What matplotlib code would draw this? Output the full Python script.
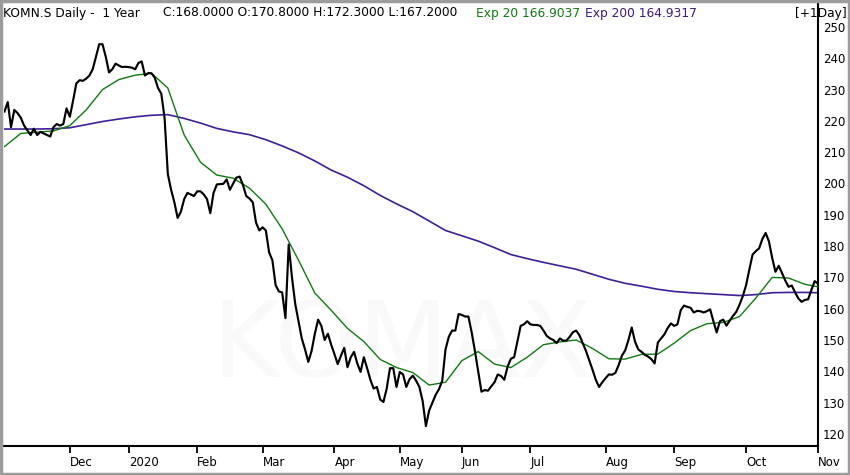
import numpy as np
import pandas as pd
import matplotlib
matplotlib.use("Agg")
import matplotlib.pyplot as plt
from matplotlib.patches import Rectangle

# ---------------- data ----------------
# SIX trading days, 4 Nov 2019 .. 2 Nov 2020
holidays = ['2019-12-24', '2019-12-25', '2019-12-26', '2019-12-31',
            '2020-01-01', '2020-01-02', '2020-04-10', '2020-04-13',
            '2020-05-01', '2020-05-21', '2020-06-01']

close = [
    # Nov 2019
    223, 226, 218, 223.5, 222.5, 221, 218.5, 217, 215.5, 217.5,
    215.5, 216.5, 216, 215.5, 215, 218, 219, 218.5, 219, 224,
    # Dec
    221.3, 226.5, 232, 233, 232.8, 233.5, 234.5, 236.5, 240.5, 244.5,
    244.5, 240.5, 235.5, 236.5, 238.3, 237.7, 237.2, 237.3,
    # Jan 2020
    237.2, 237, 236.5, 238.5, 239, 234.5, 235.3, 235.2, 233.8, 230.5,
    228.7, 221, 203, 198, 194, 189, 191, 195, 197, 196.5, 196,
    # Feb
    197.5, 197.5, 196.5, 195, 190.5, 197, 199.7, 199.8, 199.9, 201.3,
    198, 200, 201.9, 202.2, 199.5, 196, 195.2, 194, 187.5, 185,
    # Mar
    186, 185, 178, 175.5, 167.5, 165.5, 165.2, 157, 180.5, 170,
    161.5, 156, 150.5, 147, 143, 146.5, 152, 156.5, 154.5, 150, 152, 148.5,
    # Apr
    145.5, 142.3, 145, 147.5, 141.3, 144.5, 146.2, 142.5, 139.8, 144.5,
    141, 137.3, 134.5, 135, 131, 130.2, 134.5, 141, 141, 135,
    # May
    139.8, 139, 135, 137.5, 138.6, 137, 135, 130.5, 122.5, 127.5,
    130, 132.5, 134.3, 137, 147, 151, 153, 153, 158.3,
    # Jun
    158, 157.5, 157.5, 152.5, 146.5, 140, 133.5, 134, 133.8, 135.2,
    136.5, 139, 138.5, 137.3, 141.5, 144, 144.5, 149.5, 154.5, 155, 156,
    # Jul
    155, 154.8, 154.8, 154.5, 153, 151.3, 150.5, 150, 149, 150.5,
    149.8, 149.8, 151, 152.5, 153, 151.5, 149, 146.5, 143.5, 140.5,
    137.3, 135, 136.5,
    # Aug
    137.8, 139, 138.9, 139.5, 142, 145, 146.7, 150, 154, 149.5,
    147, 146.2, 145.3, 144.7, 143.9, 142.5, 149.2, 150.5, 151.8, 153.8, 155.3,
    # Sep
    154.5, 155, 159.5, 161, 160.6, 160.3, 158.8, 159.3, 159.2, 158.8,
    159.2, 159.8, 156, 152.4, 156, 156.5, 154.6, 156.2, 157.7, 159, 161.3, 164,
    # Oct
    167.5, 172.5, 177.3, 178.4, 179.3, 182.3, 184.2, 181.5, 176.2, 171.8,
    173.7, 171.4, 169, 167, 167.4, 165.2, 163.3, 162.2, 162.8, 163, 166, 168.8,
    # Nov 2
    168.0,
]

# moving averages, read every 5th trading day (+ last day)
ema20 = [211.8, 216, 216.4, 216.8, 218.5, 223.5, 230, 233.2, 234.6, 235.2,
         230.5, 215.5, 206.8, 202.7, 201.7, 198.5, 193.4, 185.5, 175.5, 165,
         159.5, 153.7, 149.5, 143.8, 141.2, 139.6, 135.6, 136.5, 143.4, 146.3,
         142.3, 141.2, 144.5, 148.5, 149.4, 150, 147.3, 144, 143.9, 145.4,
         145.5, 149, 153, 155.2, 155.6, 157.5, 163.4, 170, 169.8, 167.8, 167]
ema200 = [217.4, 217.4, 217.4, 217.5, 217.8, 218.8, 219.8, 220.6, 221.3, 221.8,
          222, 220.8, 219.3, 217.6, 216.5, 215.6, 214, 212, 209.8, 207.2,
          204.3, 202, 199.3, 196.2, 193.5, 191, 188, 185, 183.3, 181.6,
          179.5, 177.3, 176, 174.8, 173.7, 172.6, 171, 169.4, 168.1, 167.2,
          166.2, 165.5, 165.1, 164.8, 164.5, 164.2, 164.5, 165.1, 165.2, 165.2, 165.1]

month_labels = ['Dec', '2020', 'Feb', 'Mar', 'Apr', 'May', 'Jun',
                'Jul', 'Aug', 'Sep', 'Oct', 'Nov']
y_ticks = list(range(120, 251, 10))

symbol = "KOMN.S Daily -  1 Year"
last_open, last_high, last_low = 170.8, 172.3, 167.2
exp20_last, exp200_last = 166.9037, 164.9317

# ---------------- build ----------------
dates = pd.bdate_range('2019-11-04', '2020-11-02', freq='C', holidays=holidays)
dates = dates[:len(close)]
pos = np.arange(len(dates))
ema_pos = np.r_[np.arange(0, len(dates), 5), len(dates) - 1]

new_month = np.r_[False, dates.month[1:] != dates.month[:-1]]
tick_pos = pos[new_month]

W, H = 850, 475
fig = plt.figure(figsize=(W / 100, H / 100), dpi=100)
ax_l, ax_r, ax_t, ax_b = 4, 818, 3, 445.5
ax = fig.add_axes([ax_l / W, 1 - ax_b / H, (ax_r - ax_l) / W, (ax_b - ax_t) / H])

GREEN = '#107a10'
PURPLE = '#3f1f98'

# faint watermark
ax.text(0.49, 0.22, 'KOMAX', transform=ax.transAxes, fontsize=76,
        color='#f9f9f9', ha='center', va='center', zorder=0)

ax.plot(ema_pos, ema200, color=PURPLE, lw=1.2, zorder=2)
ax.plot(ema_pos, ema20, color=GREEN, lw=1.0, zorder=3)
ax.plot(pos, close, color='black', lw=1.55, zorder=4, solid_joinstyle='round')

ax.set_xlim(-0.15, len(dates) - 0.98)
ax.set_ylim(250 - (ax_b - 27) / 3.13, 250 + (27 - ax_t) / 3.13)

ax.set_xticks(tick_pos)
ax.set_xticklabels(month_labels[:len(tick_pos)])
for lbl in ax.get_xticklabels():
    lbl.set_horizontalalignment('left')
ax.tick_params(axis='x', direction='out', length=5, width=1.3, pad=2.5,
               labelsize=8.5, colors='black')

ax.yaxis.tick_right()
ax.set_yticks(y_ticks)
ax.tick_params(axis='y', length=0, pad=3.5, labelsize=8.5)

for side in ['left', 'top']:
    ax.spines[side].set_visible(False)
for side in ['right', 'bottom']:
    ax.spines[side].set_linewidth(1.5)
    ax.spines[side].set_color('black')

# header line
def fig_text(x_px, s, color='black', ha='left'):
    fig.text(x_px / W, 1 - 13 / H, s, color=color, fontsize=8.8, ha=ha, va='center')

fig_text(3, symbol)
fig_text(163, f"C:{close[-1]:.4f} O:{last_open:.4f} H:{last_high:.4f} L:{last_low:.4f}")
fig_text(476, f"Exp 20 {exp20_last:.4f}", color=GREEN)
fig_text(585, f"Exp 200 {exp200_last:.4f}", color='#3c1a80')
fig_text(847, "[+1Day]", ha='right')

# outer frame
fig.patches.append(Rectangle((0.001, 0.002), 0.998, 0.996, transform=fig.transFigure,
                             fill=False, edgecolor='#9c9c9c', lw=2.5))

fig.savefig('out.png', dpi=100)
